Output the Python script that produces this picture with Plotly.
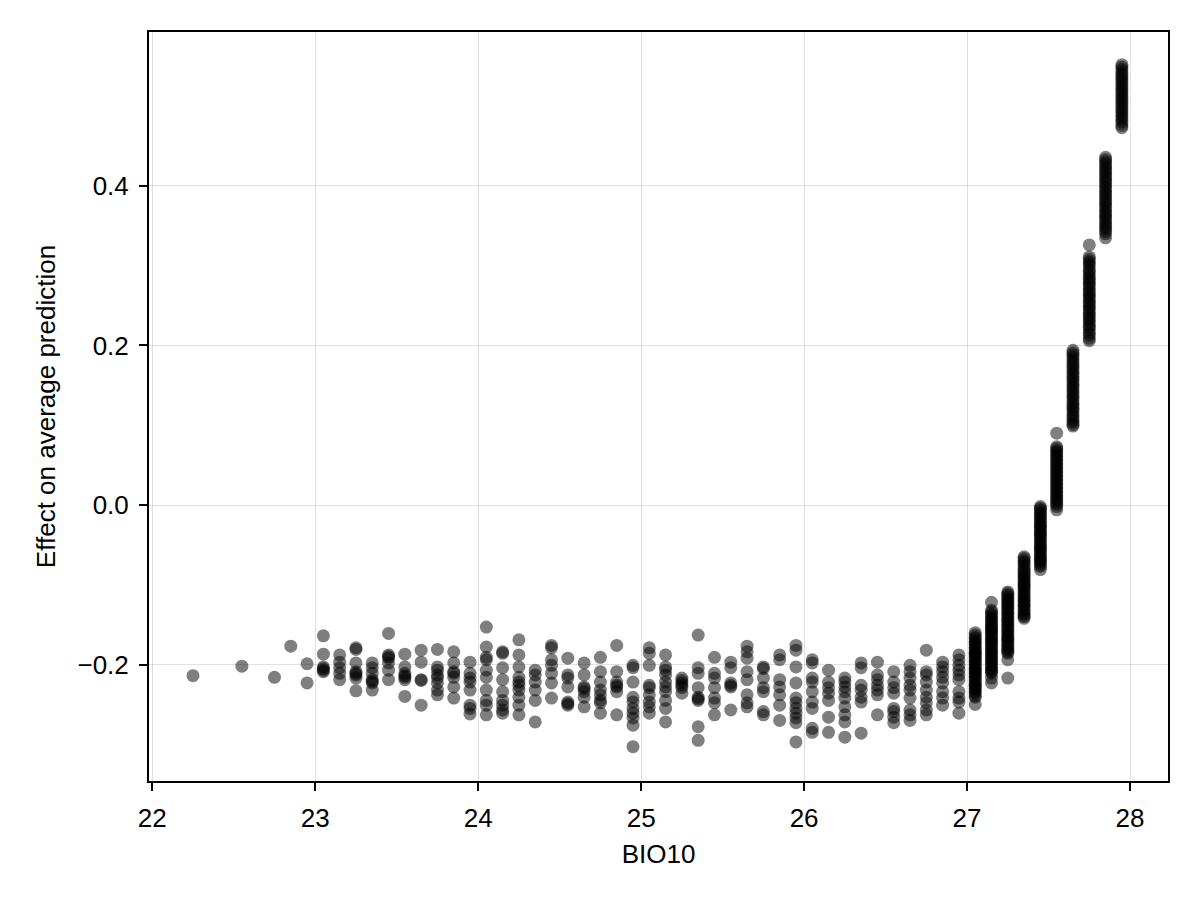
import plotly.graph_objects as go

# BIO10 column positions (x values) and the partial-dependence effects read at each
bio10_columns = [
    22.25, 22.55, 22.75, 22.85, 22.95, 23.05, 23.15, 23.25, 23.35, 23.45,
    23.55, 23.65, 23.75, 23.85, 23.95, 24.05, 24.15, 24.25, 24.35, 24.45,
    24.55, 24.65, 24.75, 24.85, 24.95, 25.05, 25.15, 25.25, 25.35, 25.45,
    25.55, 25.65, 25.75, 25.85, 25.95, 26.05, 26.15, 26.25, 26.35, 26.45,
    26.55, 26.65, 26.75, 26.85, 26.95, 27.05, 27.15, 27.25, 27.35, 27.45,
    27.55, 27.65, 27.75, 27.85, 27.95,
]

effect_columns = [
    [-0.214],
    [-0.202],
    [-0.216],
    [-0.177],
    [-0.199, -0.223],
    [-0.164, -0.187, -0.203, -0.205, -0.207, -0.209],
    [-0.188, -0.197, -0.204, -0.211, -0.219],
    [-0.179, -0.181, -0.198, -0.209, -0.211, -0.213, -0.217, -0.233],
    [-0.198, -0.204, -0.211, -0.219, -0.221, -0.223, -0.232],
    [-0.161, -0.188, -0.190, -0.192, -0.198, -0.207, -0.219],
    [-0.187, -0.203, -0.211, -0.214, -0.216, -0.219, -0.240],
    [-0.182, -0.197, -0.219, -0.220, -0.251],
    [-0.181, -0.203, -0.207, -0.213, -0.217, -0.223, -0.232, -0.238],
    [-0.184, -0.198, -0.209, -0.211, -0.216, -0.228, -0.242],
    [-0.197, -0.211, -0.217, -0.222, -0.232, -0.251, -0.255, -0.262],
    [-0.153, -0.178, -0.191, -0.194, -0.207, -0.216, -0.232, -0.245, -0.251, -0.263],
    [-0.184, -0.186, -0.204, -0.219, -0.234, -0.245, -0.251, -0.257, -0.261],
    [-0.169, -0.188, -0.203, -0.216, -0.222, -0.226, -0.232, -0.241, -0.251, -0.263],
    [-0.207, -0.213, -0.222, -0.232, -0.245, -0.272],
    [-0.176, -0.179, -0.194, -0.201, -0.211, -0.223, -0.242],
    [-0.192, -0.213, -0.217, -0.228, -0.247, -0.249, -0.251],
    [-0.198, -0.213, -0.228, -0.230, -0.234, -0.241, -0.253],
    [-0.191, -0.209, -0.222, -0.232, -0.238, -0.245, -0.248, -0.261],
    [-0.176, -0.209, -0.222, -0.226, -0.228, -0.234, -0.263],
    [-0.201, -0.204, -0.222, -0.241, -0.247, -0.255, -0.261, -0.267, -0.276, -0.303],
    [-0.179, -0.186, -0.201, -0.226, -0.229, -0.238, -0.247, -0.253, -0.261],
    [-0.188, -0.203, -0.207, -0.213, -0.222, -0.228, -0.234, -0.245, -0.255, -0.272],
    [-0.217, -0.220, -0.223, -0.226, -0.229, -0.236],
    [-0.163, -0.204, -0.211, -0.229, -0.241, -0.243, -0.245, -0.278, -0.295],
    [-0.191, -0.211, -0.217, -0.229, -0.242, -0.248, -0.263],
    [-0.197, -0.204, -0.223, -0.226, -0.228, -0.257],
    [-0.177, -0.184, -0.192, -0.209, -0.219, -0.238, -0.248, -0.253],
    [-0.203, -0.205, -0.217, -0.229, -0.234, -0.259, -0.263],
    [-0.188, -0.194, -0.219, -0.228, -0.238, -0.251, -0.270],
    [-0.176, -0.182, -0.203, -0.223, -0.242, -0.248, -0.255, -0.261, -0.267, -0.273, -0.297],
    [-0.194, -0.198, -0.217, -0.222, -0.234, -0.247, -0.255, -0.280, -0.285],
    [-0.207, -0.222, -0.229, -0.236, -0.245, -0.266, -0.285],
    [-0.217, -0.222, -0.228, -0.234, -0.242, -0.253, -0.263, -0.272, -0.291],
    [-0.198, -0.204, -0.226, -0.232, -0.241, -0.247, -0.286],
    [-0.197, -0.213, -0.219, -0.226, -0.232, -0.238, -0.263],
    [-0.209, -0.222, -0.229, -0.236, -0.255, -0.259, -0.266, -0.273],
    [-0.201, -0.209, -0.217, -0.226, -0.232, -0.242, -0.257, -0.263, -0.270],
    [-0.182, -0.209, -0.213, -0.222, -0.232, -0.241, -0.248, -0.257, -0.263],
    [-0.197, -0.203, -0.209, -0.216, -0.223, -0.234, -0.242, -0.251],
    [-0.188, -0.194, -0.201, -0.207, -0.213, -0.219, -0.234, -0.242, -0.247, -0.261],
    [-0.160, -0.163, -0.166, -0.168, -0.171, -0.173, -0.175, -0.178, -0.179, -0.182,
     -0.184, -0.186, -0.187, -0.189, -0.191, -0.193, -0.195, -0.197, -0.199, -0.201,
     -0.204, -0.205, -0.207, -0.209, -0.211, -0.213, -0.215, -0.217, -0.219, -0.222,
     -0.224, -0.226, -0.227, -0.230, -0.232, -0.234, -0.236, -0.239, -0.241, -0.250],
    [-0.122, -0.132, -0.134, -0.137, -0.139, -0.142, -0.144, -0.146, -0.149, -0.151,
     -0.153, -0.155, -0.157, -0.158, -0.161, -0.163, -0.165, -0.168, -0.170, -0.171,
     -0.174, -0.176, -0.178, -0.181, -0.183, -0.185, -0.187, -0.189, -0.192, -0.194,
     -0.196, -0.198, -0.200, -0.203, -0.205, -0.207, -0.209, -0.211, -0.217, -0.223],
    [-0.109, -0.111, -0.113, -0.116, -0.118, -0.120, -0.123, -0.125, -0.127, -0.129,
     -0.131, -0.134, -0.136, -0.138, -0.141, -0.143, -0.145, -0.147, -0.150, -0.152,
     -0.154, -0.157, -0.159, -0.161, -0.164, -0.166, -0.168, -0.170, -0.172, -0.175,
     -0.177, -0.180, -0.182, -0.184, -0.186, -0.194, -0.217],
    [-0.065, -0.067, -0.070, -0.072, -0.075, -0.078, -0.081, -0.083, -0.086, -0.088,
     -0.090, -0.093, -0.095, -0.098, -0.100, -0.102, -0.104, -0.107, -0.109, -0.112,
     -0.114, -0.117, -0.119, -0.121, -0.124, -0.126, -0.128, -0.131, -0.133, -0.136,
     -0.138, -0.140, -0.142],
    [-0.002, -0.004, -0.006, -0.009, -0.011, -0.014, -0.016, -0.019, -0.021, -0.024,
     -0.026, -0.028, -0.030, -0.033, -0.035, -0.037, -0.039, -0.042, -0.044, -0.047,
     -0.049, -0.052, -0.054, -0.056, -0.058, -0.061, -0.063, -0.066, -0.068, -0.070,
     -0.072, -0.075, -0.077, -0.081],
    [0.090, 0.073, 0.071, 0.068, 0.066, 0.063, 0.061, 0.058, 0.056, 0.053,
     0.051, 0.048, 0.046, 0.043, 0.041, 0.038, 0.036, 0.033, 0.031, 0.028,
     0.026, 0.023, 0.021, 0.018, 0.016, 0.013, 0.011, 0.008, 0.006, 0.003,
     0.001, -0.002, -0.006],
    [0.194, 0.191, 0.188, 0.185, 0.182, 0.179, 0.176, 0.173, 0.170, 0.167,
     0.164, 0.161, 0.158, 0.155, 0.152, 0.149, 0.146, 0.143, 0.140, 0.137,
     0.134, 0.131, 0.128, 0.125, 0.122, 0.119, 0.116, 0.113, 0.110, 0.107,
     0.104, 0.101, 0.099],
    [0.326, 0.311, 0.308, 0.305, 0.302, 0.299, 0.295, 0.292, 0.289, 0.286,
     0.283, 0.280, 0.277, 0.274, 0.271, 0.268, 0.265, 0.262, 0.259, 0.256,
     0.253, 0.250, 0.247, 0.244, 0.241, 0.238, 0.235, 0.232, 0.229, 0.226,
     0.223, 0.220, 0.216, 0.213, 0.209, 0.206],
    [0.436, 0.433, 0.430, 0.427, 0.424, 0.421, 0.418, 0.415, 0.412, 0.409,
     0.406, 0.403, 0.400, 0.397, 0.394, 0.391, 0.388, 0.385, 0.382, 0.379,
     0.376, 0.373, 0.370, 0.367, 0.364, 0.361, 0.358, 0.355, 0.352, 0.349,
     0.346, 0.343, 0.340, 0.335],
    [0.552, 0.549, 0.546, 0.543, 0.540, 0.537, 0.534, 0.531, 0.528, 0.525,
     0.522, 0.519, 0.516, 0.513, 0.510, 0.507, 0.504, 0.501, 0.498, 0.495,
     0.492, 0.489, 0.486, 0.483, 0.480, 0.476, 0.473],
]

x_ticks = [22, 23, 24, 25, 26, 27, 28]
y_ticks = [-0.2, 0.0, 0.2, 0.4]

xs, ys = [], []
for xv, col in zip(bio10_columns, effect_columns):
    for yv in col:
        xs.append(xv)
        ys.append(yv)

fig = go.Figure(
    go.Scatter(
        x=xs, y=ys, mode="markers",
        marker=dict(size=13, color="rgba(0,0,0,0.5)", line=dict(width=0)),
        hoverinfo="skip", showlegend=False,
    )
)

font = dict(family="Liberation Sans, Arial, sans-serif", size=26, color="black")
axis_common = dict(
    showline=True, linecolor="black", linewidth=2, mirror=True,
    ticks="outside", ticklen=8, tickwidth=1.5, tickcolor="black",
    showgrid=True, gridcolor="rgba(0,0,0,0.12)", gridwidth=1.4,
    zeroline=False, tickfont=font, ticklabelstandoff=5,
)
fig.update_xaxes(
    range=[21.98, 28.233], tickvals=x_ticks,
    ticktext=[str(t) for t in x_ticks],
    title=dict(text="BIO10", font=font, standoff=13), **axis_common,
)
fig.update_yaxes(
    range=[-0.346, 0.593], tickvals=y_ticks,
    ticktext=["\u22120.2", "0.0", "0.2", "0.4"],
    title=dict(text="Effect on average prediction", font=font, standoff=14), **axis_common,
)
fig.update_layout(
    width=1192, height=892,
    margin=dict(l=141, r=32, t=24, b=119),
    paper_bgcolor="white", plot_bgcolor="white",
    font=font,
)
fig.write_html("out.html")
